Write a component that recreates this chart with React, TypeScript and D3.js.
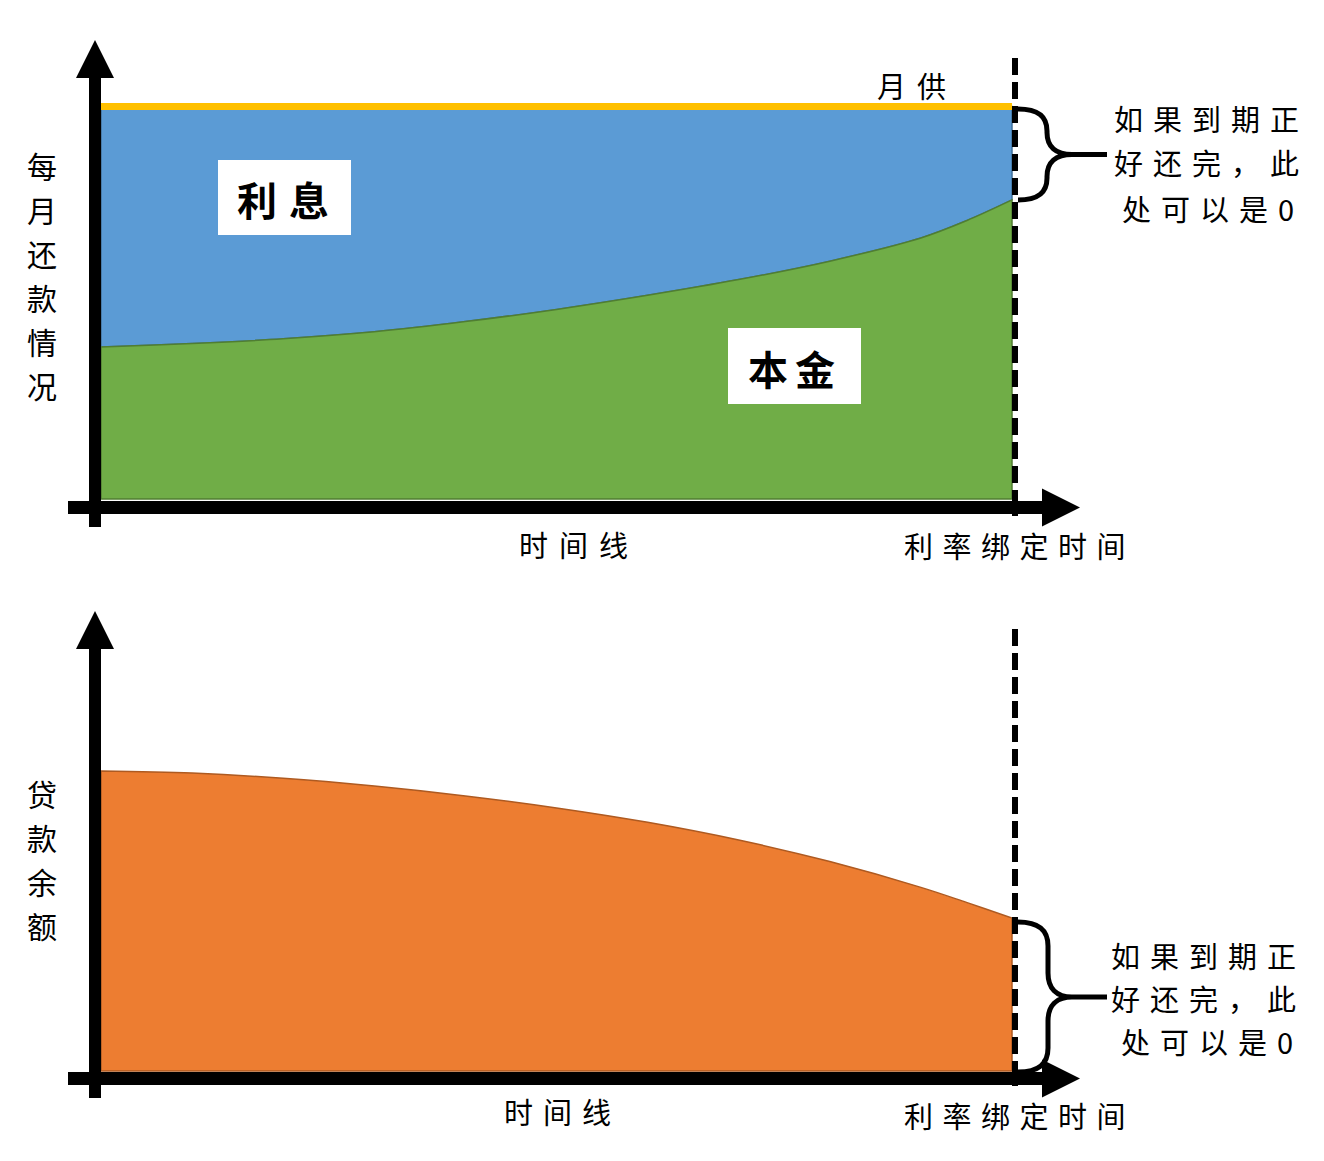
import React from "react";
import * as d3 from "d3";

// ---- data ----
const timeIndex = [0, 1, 2, 3, 4, 5, 6, 7, 8, 9, 9.5, 10];
const monthlyPayment = 100;
const principalPart = [38.7, 39.6, 40.8, 42.6, 45.2, 48.3, 51.9, 55.9, 60.6, 66.5, 70.9, 76.2];
const loanBalance = [100, 99.3, 97.6, 95.0, 91.7, 87.7, 82.9, 77.0, 69.8, 61.2, 56.2, 51.0];

const topYLabel = ["每", "月", "还", "款", "情", "况"];
const bottomYLabel = ["贷", "款", "余", "额"];
const noteLines = ["如果到期正", "好还完，此", "处可以是0"];

const FONT = "'Noto Sans CJK SC', 'Noto Sans', sans-serif";

function bracePath(x0: number, yTop: number, yBot: number, xv: number, xTip: number, xEnd: number, r: number) {
  const ym = (yTop + yBot) / 2;
  return [
    `M${x0},${yTop}`,
    `C${x0 + (xv - x0) * 0.7},${yTop} ${xv},${yTop + r * 0.35} ${xv},${yTop + r}`,
    `L${xv},${ym - r}`,
    `C${xv},${ym - r * 0.35} ${xv + (xTip - xv) * 0.35},${ym} ${xTip},${ym}`,
    `L${xEnd},${ym}`,
    `M${xTip},${ym}`,
    `C${xv + (xTip - xv) * 0.35},${ym} ${xv},${ym + r * 0.35} ${xv},${ym + r}`,
    `L${xv},${yBot - r}`,
    `C${xv},${yBot - r * 0.35} ${x0 + (xv - x0) * 0.7},${yBot} ${x0},${yBot}`,
  ].join(" ");
}

function Axes({ axisY, tipY, bottomY }: { axisY: number; tipY: number; bottomY: number }) {
  return (
    <g fill="#000">
      <rect x={89} y={tipY + 38} width={12} height={bottomY - tipY - 38} />
      <polygon points={`76,${tipY + 38} 114,${tipY + 38} 95,${tipY}`} />
      <rect x={68} y={axisY - 6.5} width={975} height={13} />
      <polygon points={`1042,${axisY - 19} 1042,${axisY + 19} 1080,${axisY}`} />
    </g>
  );
}

function Note({ x1, x3, baselines }: { x1: number; x3: number; baselines: number[] }) {
  return (
    <g fontFamily={FONT} fontSize={29} fill="#000" letterSpacing={10}>
      {noteLines.map((t, i) => (
        <text key={i} x={i === 2 ? x3 : x1} y={baselines[i]}>
          {t}
        </text>
      ))}
    </g>
  );
}

export default function App() {
  const x = d3.scaleLinear().domain([0, 10]).range([101, 1012]);
  const yTop = d3.scaleLinear().domain([0, 100]).range([499, 106.5]);
  const yBot = d3.scaleLinear().domain([0, 100]).range([1071, 771]);
  const curve = d3.curveCatmullRom.alpha(0.5);

  const principalArea = d3
    .area<number>()
    .x((_, i) => x(timeIndex[i]))
    .y0(yTop(0))
    .y1((d) => yTop(d))
    .curve(curve);
  const interestArea = d3
    .area<number>()
    .x((_, i) => x(timeIndex[i]))
    .y0((d) => yTop(d))
    .y1(yTop(monthlyPayment))
    .curve(curve);
  const balanceArea = d3
    .area<number>()
    .x((_, i) => x(timeIndex[i]))
    .y0(yBot(0))
    .y1((d) => yBot(d))
    .curve(curve);

  const xEnd = x(10);

  return (
    <svg
      width={1324}
      height={1161}
      style={{ position: "absolute", left: 0, top: 0, background: "#fff" }}
      xmlns="http://www.w3.org/2000/svg"
    >
      <rect width={1324} height={1161} fill="#fff" />

      {/* ---- top panel ---- */}
      <path d={interestArea(principalPart) || ""} fill="#5B9BD5" stroke="#41719C" strokeWidth={1.5} />
      <path d={principalArea(principalPart) || ""} fill="#70AD47" stroke="#507E32" strokeWidth={1.5} />
      <line x1={x(0)} x2={xEnd} y1={yTop(monthlyPayment)} y2={yTop(monthlyPayment)} stroke="#FFC000" strokeWidth={7} />

      <rect x={218} y={160} width={133} height={75} fill="#fff" />
      <text x={237} y={216} fontFamily={FONT} fontSize={40} fontWeight={600} letterSpacing={12}>
        利息
      </text>
      <rect x={728} y={328} width={133} height={76} fill="#fff" />
      <text x={748} y={385} fontFamily={FONT} fontSize={40} fontWeight={600} letterSpacing={7}>
        本金
      </text>

      <Axes axisY={507.5} tipY={40} bottomY={527} />
      <line x1={1015} x2={1015} y1={58} y2={516} stroke="#000" strokeWidth={6} strokeDasharray="17 7" />

      <text x={877} y={98} fontFamily={FONT} fontSize={29} letterSpacing={11}>
        月供
      </text>
      <path d={bracePath(1018, 109, 200, 1047, 1072, 1107, 22)} fill="none" stroke="#000" strokeWidth={5} />
      <Note x1={1114} x3={1122} baselines={[131, 175, 221]} />

      <text x={519} y={557} fontFamily={FONT} fontSize={29} letterSpacing={11}>
        时间线
      </text>
      <text x={904} y={558} fontFamily={FONT} fontSize={29} letterSpacing={9.5}>
        利率绑定时间
      </text>

      <g fontFamily={FONT} fontSize={30} textAnchor="middle">
        {topYLabel.map((c, i) => (
          <text key={c + i} x={42} y={178 + i * 44}>
            {c}
          </text>
        ))}
      </g>

      {/* ---- bottom panel ---- */}
      <path d={balanceArea(loanBalance) || ""} fill="#ED7D31" stroke="#AE5A21" strokeWidth={1.5} />
      <Axes axisY={1078.5} tipY={611} bottomY={1098} />
      <line x1={1015} x2={1015} y1={629} y2={1086} stroke="#000" strokeWidth={6} strokeDasharray="17 7" />

      <path d={bracePath(1018, 922, 1072, 1048, 1072, 1107, 24)} fill="none" stroke="#000" strokeWidth={5} />
      <Note x1={1111} x3={1121} baselines={[968, 1011, 1054]} />

      <text x={504} y={1124} fontFamily={FONT} fontSize={29} letterSpacing={10}>
        时间线
      </text>
      <text x={904} y={1128} fontFamily={FONT} fontSize={29} letterSpacing={9.5}>
        利率绑定时间
      </text>

      <g fontFamily={FONT} fontSize={30} textAnchor="middle">
        {bottomYLabel.map((c, i) => (
          <text key={c + i} x={42} y={806 + i * 44}>
            {c}
          </text>
        ))}
      </g>
    </svg>
  );
}
